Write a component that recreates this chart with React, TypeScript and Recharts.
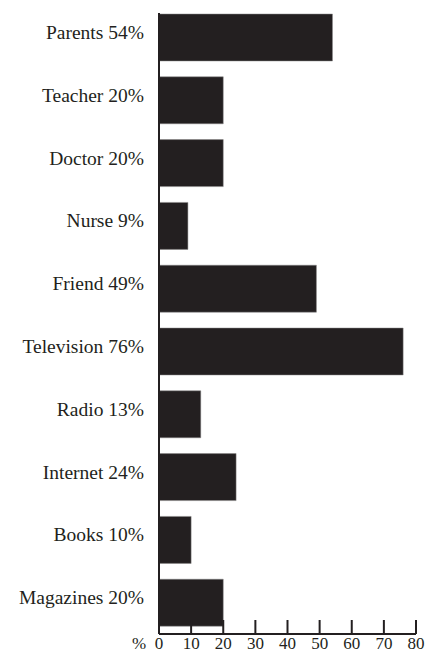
import { BarChart, Bar, XAxis, YAxis } from "recharts";

const categories = [
  "Parents",
  "Teacher",
  "Doctor",
  "Nurse",
  "Friend",
  "Television",
  "Radio",
  "Internet",
  "Books",
  "Magazines",
];
const percents = [54, 20, 20, 9, 49, 76, 13, 24, 10, 20];
const xTicks = [0, 10, 20, 30, 40, 50, 60, 70, 80];

const data = categories.map((name, i) => ({
  label: `${name} ${percents[i]}%`,
  value: percents[i],
}));

const INK = "#231f20";
const SERIF = "Liberation Serif";

function YTick({ x, y, payload }: any) {
  return (
    <text
      x={x}
      y={y + 1.5}
      textAnchor="end"
      fill={INK}
      style={{ fontFamily: SERIF, fontSize: 19.5 }}
    >
      {payload.value}
    </text>
  );
}

function XTick({ x, y, payload, index }: any) {
  const st = { fontFamily: SERIF, fontSize: 17 };
  return (
    <g>
      {index === 0 && (
        <text x={x - 20} y={y + 14.5} textAnchor="middle" fill={INK} style={st}>
          %
        </text>
      )}
      <text x={x} y={y + 14.5} textAnchor="middle" fill={INK} style={st}>
        {payload.value}
      </text>
    </g>
  );
}

export default function App() {
  return (
    <div style={{ position: "absolute", left: 0, top: 0, background: "#fff" }}>
      <BarChart
        width={426}
        height={652}
        data={data}
        layout="vertical"
        margin={{ top: 6, right: 10, bottom: 0, left: 0 }}
      >
        <XAxis
          type="number"
          domain={[0, 80]}
          ticks={xTicks}
          height={18}
          tickSize={-14}
          tickMargin={14}
          tick={<XTick />}
          axisLine={{ stroke: INK, strokeWidth: 2 }}
          tickLine={{ stroke: INK, strokeWidth: 2 }}
          allowDataOverflow
        />
        <YAxis
          type="category"
          dataKey="label"
          width={159}
          tickSize={0}
          tickMargin={15}
          tickLine={false}
          tick={<YTick />}
          interval={0}
          axisLine={{ stroke: INK, strokeWidth: 2, strokeDasharray: "0 7 1000" }}
        />
        <Bar dataKey="value" barSize={47} fill={INK} stroke="#8a8888" strokeWidth={0.5} isAnimationActive={false} />
      </BarChart>
    </div>
  );
}
